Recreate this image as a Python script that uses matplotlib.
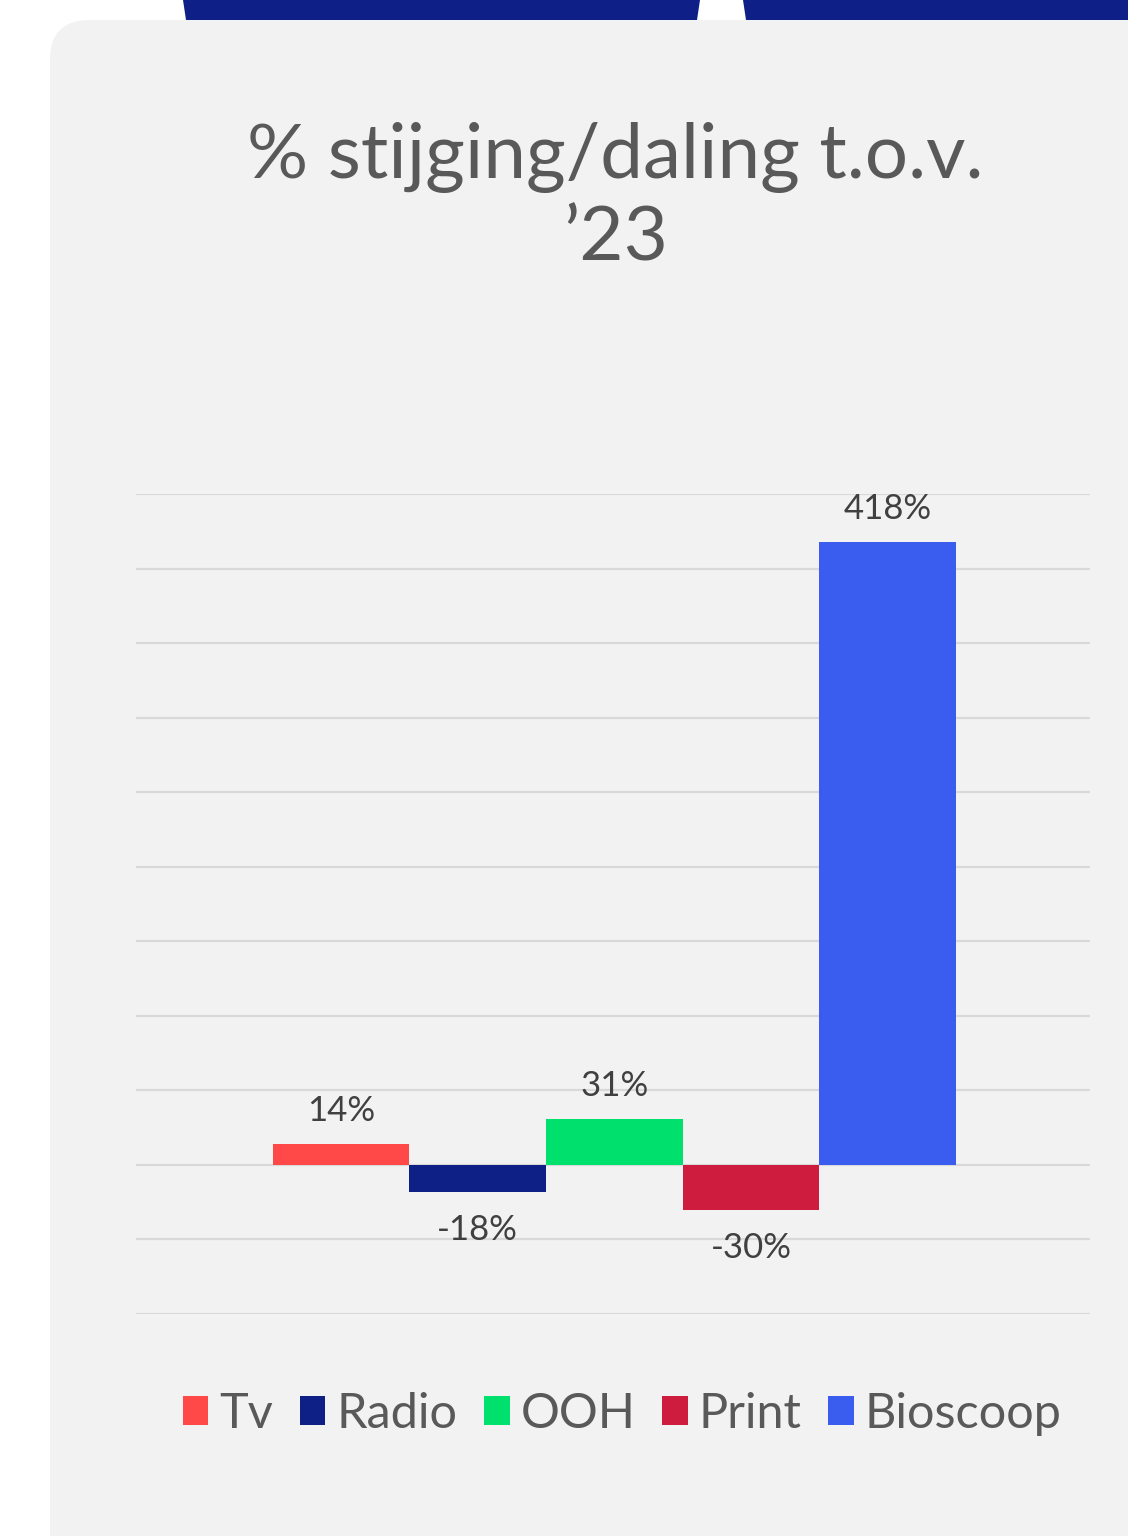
import numpy as np
import matplotlib
matplotlib.use("Agg")
from matplotlib import pyplot as plt
from matplotlib.patches import FancyBboxPatch, Polygon

plt.rcParams['font.family'] = ['Lato', 'DejaVu Sans']

categories = ['Tv', 'Radio', 'OOH', 'Print', 'Bioscoop']
values = [14, -18, 31, -30, 418]
labels = ['14%', '-18%', '31%', '-30%', '418%']
colors = ['#FF4848', '#0E2086', '#00E06C', '#CE1C3E', '#3A5DF0']
title = "% stijging/daling t.o.v.\n\u201923"

W, H = 1128, 1536
fig = plt.figure(figsize=(W / 100, H / 100), dpi=100)
fig.patch.set_facecolor('white')

# navy tabs at top
for pts in ([(183, 0), (700, 0), (697, 20), (186, 20)],
            [(743, 0), (1128, 0), (1128, 20), (746, 20)]):
    fig.patches.append(Polygon([(x / W, 1 - y / H) for x, y in pts], closed=True,
                               transform=fig.transFigure, facecolor='#0E2087',
                               edgecolor='none', zorder=-10))

# grey panel
panel = FancyBboxPatch((50 / W, -0.05), 1.2, 1 - 20 / H + 0.05,
                       boxstyle="round,pad=0,rounding_size=0.035",
                       transform=fig.transFigure, facecolor='#F2F2F2',
                       edgecolor='none', mutation_aspect=W / H, zorder=-10)
fig.patches.append(panel)

fig.text(615 / W, 1 - 198 / H, title, ha='center', va='center', fontsize=55,
         color='#595959', linespacing=1.2)

ax = fig.add_axes([136 / W, 1 - 1314 / H, (1090 - 136) / W, (1314 - 494) / H])
ax.set_facecolor('none')

x = np.arange(len(categories))
bars = ax.bar(x, values, width=1.0, color=colors, label=categories, zorder=3)

ax.set_ylim(-100, 450)
ax.set_xlim(-1.5, 5.48)
ax.set_yticks(np.arange(-100, 451, 50))
ax.yaxis.grid(True, color='#D9D9D9', linewidth=1.6, zorder=0)
ax.set_xticks([])
ax.tick_params(axis='y', length=0, labelleft=False)
for s in ax.spines.values():
    s.set_visible(False)

for xi, v, lab in zip(x, values, labels):
    off = 12 if v >= 0 else -16
    ax.annotate(lab, (xi, v), xytext=(0, off), textcoords='offset points',
                ha='center', va='bottom' if v >= 0 else 'top',
                fontsize=25, color='#404040')

leg = fig.legend(handles=bars, labels=categories, loc='center',
                 bbox_to_anchor=(622 / W, 1 - 1414 / H), ncol=5, frameon=False,
                 fontsize=35, handlelength=0.53, handleheight=0.53,
                 handletextpad=0.22, columnspacing=0.55, labelcolor='#595959')

fig.savefig('out.png', dpi=100)
